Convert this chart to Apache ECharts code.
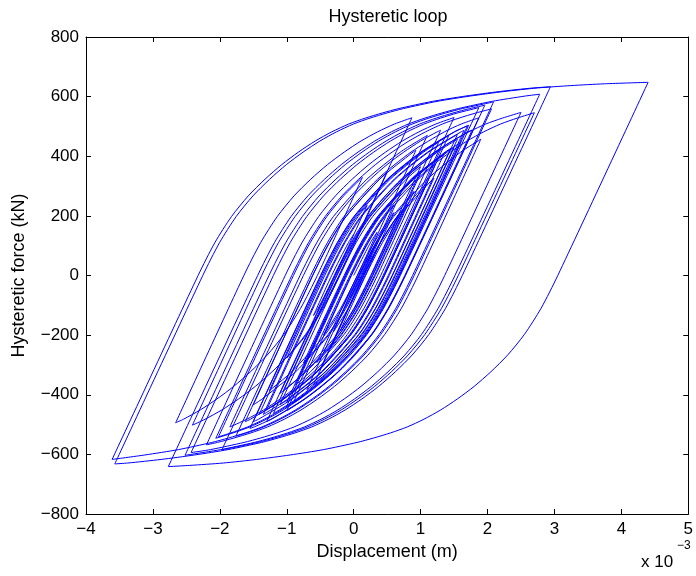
<!DOCTYPE html>
<html>
<head>
<meta charset="utf-8">
<title>Hysteretic loop</title>
<script src="https://cdn.jsdelivr.net/npm/echarts@6/dist/echarts.min.js"></script>
<style>
  html, body { margin: 0; padding: 0; background: #fff; }
  #chart { width: 696px; height: 576px; }
</style>
</head>
<body>
<div id="chart"></div>
<script>
// displacement in 1e-3 m, force in kN (reversal tips + points along each branch)
var growPath = [
  [0, 0], [0.25, 110], [0.35, 145],
  [0.056, 0], [-0.194, -110], [-0.45, -200],
  [-0.04, 0], [0.21, 110], [0.46, 198], [0.6, 237],
  [0.117, 0], [-0.133, -110], [-0.383, -198], [-0.75, -293],
  [-0.142, 0], [0.108, 110], [0.358, 198], [0.858, 323], [1.0, 351],
  [0.281, 0], [0.031, -110], [-0.219, -198], [-0.719, -323], [-1.05, -386],
  [-0.26, 0], [-0.01, 110], [0.24, 198], [0.74, 323], [1.24, 414], [1.3, 423],
  [0.44, 0], [0.19, -110], [-0.06, -198], [-0.56, -323], [-1.06, -414], [-1.3, -450],
  [-0.38, 0], [-0.13, 110], [0.12, 198], [0.62, 323], [1.12, 414], [1.55, 473],
  [0.575, 0], [0.325, -110], [0.075, -198], [-0.425, -323], [-0.925, -414], [-1.0, -425],
  [-0.133, 0], [0.117, 110], [0.367, 198], [0.867, 323], [1.367, 414], [1.45, 426],
  [0.579, 0], [0.329, -110], [0.079, -198], [-0.421, -323], [-0.921, -414], [-1.421, -482], [-1.5, -490],
  [-0.49, 0], [-0.24, 110], [0.01, 198], [0.51, 323], [1.01, 414], [1.51, 482], [1.7, 502],
  [0.665, 0], [0.415, -110], [0.165, -198], [-0.085, -267], [-0.335, -323], [-0.585, -372], [-0.835, -414], [-1.085, -451], [-1.335, -482], [-1.585, -508], [-1.835, -528], [-2.02, -541],
  [-0.9, 0], [-0.65, 110], [-0.4, 198], [-0.15, 267], [0.1, 323], [0.13, 329],
  [-0.543, 0], [-0.793, -110], [-1.043, -198], [-1.293, -267], [-1.543, -323], [-1.793, -372], [-2.043, -414], [-2.293, -451], [-2.543, -482], [-2.66, -494],
  [-1.641, 0], [-1.391, 110], [-1.141, 198], [-0.891, 267], [-0.641, 323], [-0.391, 372], [-0.141, 414], [0.109, 451], [0.359, 482], [0.609, 508], [0.87, 529],
  [-0.22, 0], [-0.47, -110], [-0.72, -198], [-0.97, -267], [-1.22, -323], [-1.47, -372], [-1.72, -414], [-1.97, -451], [-2.22, -482], [-2.41, -502],
  [-1.375, 0], [-1.125, 110], [-0.875, 198], [-0.625, 267], [-0.375, 323], [-0.125, 372], [0.125, 414], [0.375, 451], [0.625, 482], [0.875, 508], [1.125, 528], [1.375, 545], [1.625, 560], [2.09, 582]
];

var peakPath = [
  [2.09, 582],
  [0.88, 0], [0.63, -110], [0.38, -198], [0.13, -267], [-0.12, -323], [-0.37, -372], [-0.62, -414], [-0.87, -451], [-1.12, -482], [-1.37, -508], [-1.62, -528], [-1.87, -545], [-2.12, -560], [-2.62, -584], [-3.12, -602], [-3.61, -617],
  [-2.325, 0], [-2.075, 110], [-1.825, 198], [-1.575, 267], [-1.325, 323], [-1.075, 372], [-0.825, 414], [-0.575, 451], [-0.325, 482], [-0.075, 508], [0.175, 528], [0.425, 545], [0.675, 560], [1.175, 584], [1.675, 602], [2.175, 617], [2.675, 629], [2.94, 633],
  [1.623, 0], [1.373, -110], [1.123, -198], [0.873, -267], [0.623, -323], [0.373, -372], [0.123, -414], [-0.127, -451], [-0.377, -482], [-0.627, -508], [-0.877, -528], [-1.127, -545], [-1.377, -560], [-1.877, -584], [-2.377, -602], [-2.877, -617], [-3.377, -629], [-3.57, -632],
  [-2.255, 0], [-2.005, 110], [-1.755, 198], [-1.505, 267], [-1.255, 323], [-1.005, 372], [-0.755, 414], [-0.505, 451], [-0.255, 482], [-0.005, 508], [0.245, 528], [0.495, 545], [0.745, 560], [1.245, 584], [1.745, 602], [2.245, 617], [2.745, 629], [3.245, 637], [3.745, 643], [4.4, 648],
  [3.05, 0], [2.8, -110], [2.55, -198], [2.3, -267], [2.05, -323], [1.8, -372], [1.55, -414], [1.3, -451], [1.05, -482], [0.8, -508], [0.55, -528], [0.3, -545], [0.05, -560], [-0.45, -584], [-0.95, -602], [-1.45, -617], [-1.95, -629], [-2.45, -637], [-2.77, -641]
];

var decayPath = [
  [-2.77, -641],
  [-1.435, 0], [-1.185, 110], [-0.935, 198], [-0.685, 267], [-0.435, 323], [-0.185, 372], [0.065, 414], [0.315, 451], [0.565, 482], [0.815, 508], [1.065, 528], [1.315, 545], [1.565, 560], [2.065, 584], [2.565, 602], [2.78, 608],
  [1.513, 0], [1.263, -110], [1.013, -198], [0.763, -267], [0.513, -323], [0.263, -372], [0.013, -414], [-0.237, -451], [-0.487, -482], [-0.737, -508], [-0.987, -528], [-1.237, -545], [-1.487, -560], [-1.987, -584], [-2.487, -602], [-2.52, -603],
  [-1.266, 0], [-1.016, 110], [-0.766, 198], [-0.516, 267], [-0.266, 323], [-0.016, 372], [0.234, 414], [0.484, 451], [0.734, 482], [0.984, 508], [1.234, 528], [1.484, 545], [1.734, 560], [1.96, 571],
  [0.77, 0], [0.52, -110], [0.27, -198], [0.02, -267], [-0.23, -323], [-0.48, -372], [-0.73, -414], [-0.98, -451], [-1.0, -453],
  [-0.056, 0], [0.194, 110], [0.444, 198], [0.694, 267], [0.944, 323], [1.194, 372], [1.444, 414], [1.694, 451], [1.944, 482], [2.194, 508], [2.444, 528], [2.7, 546],
  [1.563, 0], [1.313, -110], [1.063, -198], [0.813, -267], [0.563, -323], [0.313, -372], [0.063, -414], [-0.187, -451], [-0.437, -482], [-0.687, -508], [-0.937, -528], [-1.187, -545], [-1.437, -560], [-1.97, -585],
  [-0.751, 0], [-0.501, 110], [-0.251, 198], [-0.001, 267], [0.249, 323], [0.499, 372], [0.749, 414], [0.999, 451], [1.249, 482], [1.3, 487],
  [0.285, 0], [0.035, -110], [-0.215, -198], [-0.465, -267], [-0.715, -323], [-0.965, -372], [-1.1, -395],
  [-0.277, 0], [-0.027, 110], [0.223, 198], [0.473, 267], [0.723, 323], [0.973, 372], [1.223, 414], [1.473, 451], [1.723, 482], [1.973, 508], [2.223, 528], [2.5, 547],
  [1.36, 0], [1.11, -110], [0.86, -198], [0.61, -267], [0.36, -323], [0.11, -372], [-0.14, -414], [-0.39, -451], [-0.64, -482], [-0.89, -508], [-1.14, -528], [-1.39, -545], [-1.64, -560], [-2.14, -584], [-2.43, -594],
  [-1.2, 0], [-0.95, 110], [-0.7, 198], [-0.45, 267], [-0.2, 323], [0.05, 372], [0.3, 414], [0.55, 451], [0.8, 482], [1.05, 508], [1.3, 528], [1.55, 545], [1.87, 563],
  [0.697, 0], [0.447, -110], [0.197, -198], [-0.053, -267], [-0.303, -323], [-0.553, -372], [-0.803, -414], [-1.053, -451], [-1.303, -482], [-1.553, -508], [-1.803, -528], [-2.06, -546],
  [-0.925, 0], [-0.675, 110], [-0.425, 198], [-0.175, 267], [0.075, 323], [0.325, 372], [0.575, 414], [0.825, 451], [1.075, 482], [1.325, 508], [1.575, 528], [1.825, 545], [2.06, 559],
  [0.904, 0], [0.654, -110], [0.404, -198], [0.154, -267], [-0.096, -323], [-0.346, -372], [-0.596, -414], [-0.846, -451], [-1.096, -482], [-1.346, -508], [-1.596, -528], [-1.76, -539],
  [-0.643, 0], [-0.393, 110], [-0.143, 198], [0.357, 323], [0.857, 414], [1.357, 482], [1.607, 508], [1.87, 529],
  [0.774, 0], [0.524, -110], [0.274, -198], [-0.226, -323], [-0.726, -414], [-1.226, -482], [-1.3, -490],
  [-0.29, 0], [-0.04, 110], [0.21, 198], [0.71, 323], [1.21, 414], [1.71, 482], [1.77, 488],
  [0.764, 0], [0.514, -110], [0.264, -198], [-0.236, -323], [-0.736, -414], [-1.236, -482], [-1.486, -508], [-1.55, -513],
  [-0.496, 0], [-0.246, 110], [0.004, 198], [0.504, 323], [1.004, 414], [1.504, 482], [1.72, 504],
  [0.678, 0], [0.428, -110], [0.178, -198], [-0.322, -323], [-0.822, -414], [-0.9, -426],
  [-0.033, 0], [0.217, 110], [0.467, 198], [0.967, 323], [1.22, 373],
  [0.458, 0], [0.208, -110], [-0.042, -198], [-0.542, -323], [-1.042, -414], [-1.542, -482], [-1.62, -490],
  [-0.612, 0], [-0.362, 110], [-0.112, 198], [0.388, 323], [0.888, 414], [0.93, 420],
  [0.074, 0], [-0.176, -110], [-0.426, -198], [-0.926, -323], [-1.26, -386],
  [-0.473, 0], [-0.223, 110], [0.027, 198], [0.527, 323], [1.027, 414], [1.42, 469],
  [0.455, 0], [0.205, -110], [-0.045, -198], [-0.545, -323], [-1.045, -414], [-1.41, -465],
  [-0.454, 0], [-0.204, 110], [0.046, 198], [0.546, 323], [1.046, 414], [1.27, 447],
  [0.355, 0], [0.105, -110], [-0.145, -198], [-0.645, -323], [-0.87, -367],
  [-0.12, 0], [0.13, 110], [0.38, 198], [0.88, 323], [1.38, 414], [1.6, 446],
  [0.688, 0], [0.438, -110], [0.188, -198], [-0.312, -323], [-0.812, -414], [-1.01, -443],
  [-0.102, 0], [0.148, 110], [0.398, 198], [0.898, 323], [1.398, 414], [1.5, 429],
  [0.625, 0], [0.375, -110], [0.125, -198], [-0.375, -323], [-0.6, -367],
  [0.15, 0], [0.4, 110], [0.65, 198], [1.1, 312],
  [0.46, 0], [0.21, -110], [-0.04, -198], [-0.5, -314],
  [0.144, 0], [0.394, 110], [0.7, 213],
  [0.263, 0], [0.013, -110], [-0.2, -185]
];

var tailPath = [
  [-0.2, -185],
  [0.179, 0], [0.429, 110], [0.679, 198], [1.179, 323], [1.2, 327],
  [0.531, 0], [0.281, -110], [0.031, -198], [-0.469, -323], [-0.969, -414], [-1.1, -433],
  [-0.215, 0], [0.035, 110], [0.285, 198], [0.785, 323], [1.0, 365],
  [0.254, 0], [0.004, -110], [-0.246, -198], [-0.746, -323], [-0.8, -334],
  [-0.117, 0], [0.133, 110], [0.383, 198], [0.883, 323], [1.35, 408],
  [0.517, 0], [0.267, -110], [0.017, -198], [-0.483, -323], [-0.983, -414], [-1.35, -466],
  [-0.394, 0], [-0.144, 110], [0.106, 198], [0.606, 323], [1.106, 414], [1.606, 482], [1.65, 487],
  [0.648, 0], [0.398, -110], [0.148, -198], [-0.352, -323], [-0.852, -414], [-1.2, -463],
  [-0.25, 0], [0.0, 110], [0.25, 198], [0.75, 323], [1.25, 414], [1.55, 457],
  [0.613, 0], [0.363, -110], [0.113, -198], [-0.387, -323], [-0.7, -383],
  [0.081, 0], [0.331, 110], [0.581, 198], [0.9, 282],
  [0.323, 0], [0.073, -110], [-0.177, -198], [-0.35, -246],
  [0.152, 0], [0.402, 110], [0.652, 198], [0.8, 239],
  [0.31, 0], [0.06, -110], [-0.19, -198], [-0.55, -292],
  [0.054, 0], [0.304, 110], [0.554, 198], [0.6, 211],
  [0.171, 0], [-0.079, -110], [-0.3, -188],
  [0.085, 0], [0.335, 110], [0.35, 115],
  [0.121, 0], [-0.05, -75],
  [0.1, 0], [0.35, 110], [0.6, 198], [1.1, 323], [1.6, 414], [1.9, 457],
  [0.963, 0], [0.713, -110], [0.463, -198], [0.213, -267], [-0.037, -323], [-0.287, -372], [-0.537, -414], [-0.787, -451], [-1.037, -482], [-1.287, -508], [-1.537, -528], [-1.787, -545], [-2.037, -560], [-2.2, -568],
  [-1.023, 0], [-0.773, 110], [-0.523, 198], [-0.273, 267], [-0.023, 323], [0.227, 372], [0.477, 414], [0.727, 451], [0.977, 482], [1.227, 508], [1.5, 530],
  [0.404, 0], [0.154, -110], [-0.096, -198], [-0.346, -267], [-0.596, -323], [-0.846, -372], [-1.096, -414], [-1.346, -451], [-1.596, -482], [-1.85, -508],
  [-0.802, 0], [-0.552, 110], [-0.302, 198], [0.198, 323], [0.698, 414], [1.1, 470],
  [0.133, 0], [-0.117, -110], [-0.367, -198], [-0.867, -323], [-1.367, -414], [-1.5, -434],
  [-0.615, 0], [-0.365, 110], [-0.115, 198], [0.385, 323], [0.5, 346],
  [-0.206, 0], [-0.456, -110], [-0.706, -198], [-1.0, -277],
  [-0.433, 0], [-0.183, 110], [0.067, 198], [0.2, 235],
  [-0.281, 0], [-0.531, -110], [-0.6, -134],
  [-0.329, 0], [-0.079, 110], [0, 138]
];

var xTicks = [-4, -3, -2, -1, 0, 1, 2, 3, 4, 5];
var yTicks = [-800, -600, -400, -200, 0, 200, 400, 600, 800];

var FONT = "'Liberation Sans', Arial, Helvetica, sans-serif";

// cut the path at every reversal so each branch keeps a sharp tip
function splitBranches(path) {
  var out = [];
  var cur = [path[0]];
  var dir = 0;
  for (var i = 1; i < path.length; i++) {
    var d = path[i][0] > path[i - 1][0] ? 1 : -1;
    if (dir !== 0 && d !== dir) {
      out.push(cur);
      cur = [path[i - 1]];
    }
    dir = d;
    cur.push(path[i]);
  }
  out.push(cur);
  return out;
}

function minusLabel(v) {
  return String(v).replace('-', '\u2212');
}

var fullPath = growPath.concat(peakPath.slice(1), decayPath.slice(1), tailPath.slice(1));
var branches = splitBranches(fullPath);

var series = branches.map(function (b) {
  return {
    type: 'line',
    data: b,
    smooth: 0.25,
    symbol: 'none',
    silent: true,
    lineStyle: { color: '#0000ff', width: 1 }
  };
});

function boxAxis(pos, min, max, step, showLabels) {
  return {
    type: 'value',
    position: pos,
    min: min,
    max: max,
    interval: step,
    axisLine: { show: true, onZero: false, lineStyle: { color: '#000', width: 1 } },
    axisTick: { show: true, inside: true, length: 5, lineStyle: { color: '#000' } },
    splitLine: { show: false },
    axisLabel: {
      show: showLabels,
      color: '#000',
      fontFamily: FONT,
      fontSize: 17,
      margin: 7,
      formatter: minusLabel
    }
  };
}

var chart = echarts.init(document.getElementById('chart'), null, { renderer: 'canvas' });

var xBottom = boxAxis('bottom', xTicks[0], xTicks[xTicks.length - 1], 1, true);
xBottom.name = 'Displacement (m)';
xBottom.nameLocation = 'middle';
xBottom.nameGap = 27;
xBottom.nameTextStyle = { color: '#000', fontFamily: FONT, fontSize: 18 };

var yLeft = boxAxis('left', yTicks[0], yTicks[yTicks.length - 1], 200, true);
yLeft.name = 'Hysteretic force (kN)';
yLeft.nameLocation = 'middle';
yLeft.nameGap = 58;
yLeft.nameTextStyle = { color: '#000', fontFamily: FONT, fontSize: 18 };

chart.setOption({
  animation: false,
  backgroundColor: '#fff',
  grid: { left: 86, right: 7, top: 37, bottom: 62, containLabel: false },
  xAxis: [xBottom, boxAxis('top', xTicks[0], xTicks[xTicks.length - 1], 1, false)],
  yAxis: [yLeft, boxAxis('right', yTicks[0], yTicks[yTicks.length - 1], 200, false)],
  graphic: [
    {
      type: 'text', x: 388, y: 17,
      style: { text: 'Hysteretic loop', fill: '#000', font: '18px ' + FONT, align: 'center', verticalAlign: 'middle' }
    },
    {
      type: 'text', x: 641, y: 562,
      style: { text: 'x 10', fill: '#000', font: '17px ' + FONT, align: 'left', verticalAlign: 'middle' }
    },
    {
      type: 'text', x: 677, y: 546,
      style: { text: '\u22123', fill: '#000', font: '12px ' + FONT, align: 'left', verticalAlign: 'middle' }
    }
  ],
  series: series
});
</script>
</body>
</html>
